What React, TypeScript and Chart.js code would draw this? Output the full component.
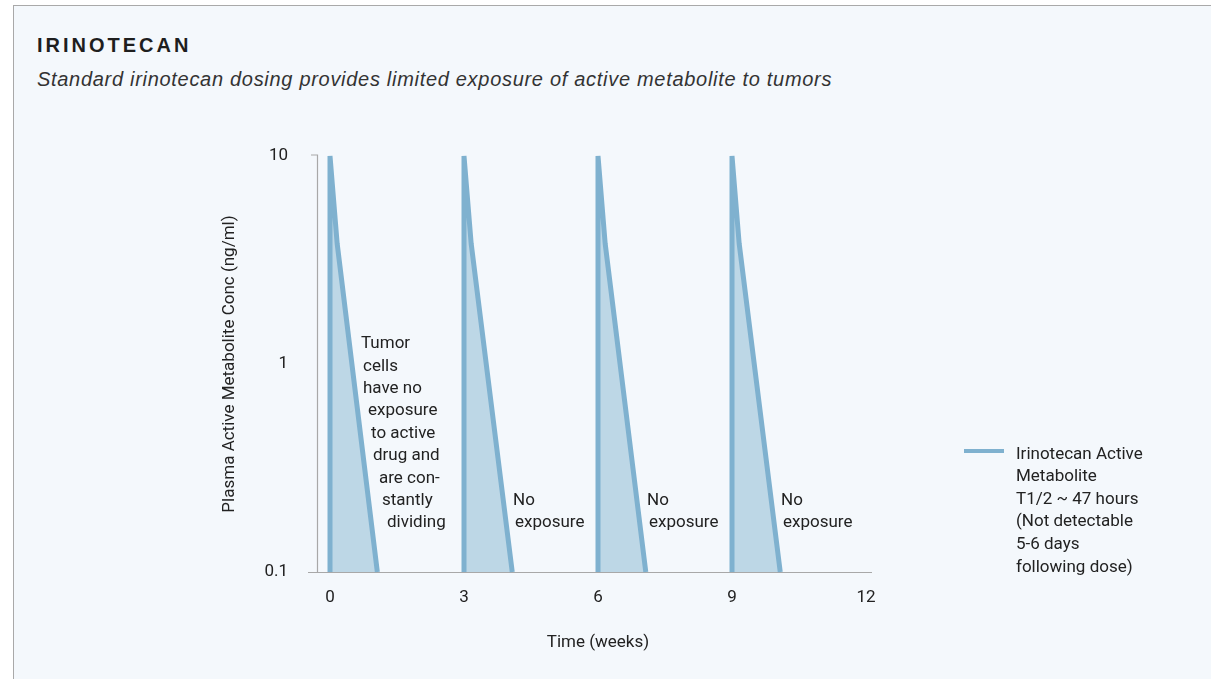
import React, { useEffect, useRef } from 'react';
import { Chart, registerables } from 'chart.js';

Chart.register(...registerables);

// ---- data ----
const dose1Weeks = [0, 0, 0.16, 1.06];
const dose1Conc = [0.1, 10, 3.8, 0.1];
const dose2Weeks = [3, 3, 3.16, 4.08];
const dose2Conc = [0.1, 10, 3.8, 0.1];
const dose3Weeks = [6, 6, 6.16, 7.07];
const dose3Conc = [0.1, 10, 3.8, 0.1];
const dose4Weeks = [9, 9, 9.16, 10.08];
const dose4Conc = [0.1, 10, 3.8, 0.1];

const xTickValues = [0, 3, 6, 9, 12];
const yTickValues = [0.1, 1, 10];
const yTickLabels = ['0.1', '1', '10'];

const seriesLabel = 'Irinotecan Active Metabolite';
const legendLines = ['Irinotecan Active', 'Metabolite', 'T1/2 ~ 47 hours', '(Not detectable', '5-6 days', 'following dose)'];
const tumorNote = ['Tumor', 'cells', 'have no', 'exposure', 'to active', 'drug and', 'are con-', 'stantly', 'dividing'];
const noExposureNote = ['No', 'exposure'];
const noExposureDoses = [3, 6, 9];

const titleText = 'IRINOTECAN';
const subtitleText = 'Standard irinotecan dosing provides limited exposure of active metabolite to tumors';
const xTitle = 'Time (weeks)';
const yTitle = 'Plasma Active Metabolite Conc (ng/ml)';

// ---- styles ----
const LINE = '#7fb1cf';
const FILL = '#bdd7e6';
const AXIS = '#a8a8a8';
const TEXT = '#222222';
const FONT = 'Roboto, "Liberation Sans", Arial, sans-serif';

const tumorOffsets = [31, 33, 33, 38, 41, 43, 49, 52, 57];

const toPoints = (xs: number[], ys: number[]) => xs.map((x, i) => ({ x, y: ys[i] }));

export default function App() {
  const canvasRef = useRef<HTMLCanvasElement | null>(null);

  useEffect(() => {
    if (!canvasRef.current) return;
    const mk = (xs: number[], ys: number[]) => ({
      label: seriesLabel,
      data: toPoints(xs, ys),
      borderColor: LINE,
      backgroundColor: FILL,
      borderWidth: 5,
      borderJoinStyle: 'bevel' as const,
      pointRadius: 0,
      tension: 0,
      fill: 'start' as const,
      clip: false as const,
    });

    const overlay = {
      id: 'overlay',
      beforeDatasetsDraw(chart: any) {
        const { ctx, chartArea, scales } = chart;
        const y10 = scales.y.getPixelForValue(10);
        ctx.save();
        ctx.strokeStyle = AXIS;
        ctx.lineWidth = 1.2;
        ctx.beginPath();
        ctx.moveTo(chartArea.left - 22, chartArea.bottom + 0.5);
        ctx.lineTo(chartArea.right + 6, chartArea.bottom + 0.5);
        ctx.moveTo(chartArea.left - 12.5, y10 - 1.5);
        ctx.lineTo(chartArea.left - 12.5, chartArea.bottom);
        ctx.moveTo(chartArea.left - 19, y10 - 1);
        ctx.lineTo(chartArea.left - 12.5, y10 - 1);
        ctx.stroke();
        ctx.restore();
      },
      afterDraw(chart: any) {
        const { ctx, scales } = chart;
        ctx.save();
        ctx.fillStyle = TEXT;
        ctx.font = `17px ${FONT}`;
        ctx.textBaseline = 'middle';
        ctx.textAlign = 'left';
        const x0 = scales.x.getPixelForValue(0);
        tumorNote.forEach((t, i) => {
          ctx.fillText(t, x0 + tumorOffsets[i], 344 + i * 22.4);
        });
        noExposureDoses.forEach((d) => {
          const xp = scales.x.getPixelForValue(d);
          ctx.fillText(noExposureNote[0], xp + 49, 500.5);
          ctx.fillText(noExposureNote[1], xp + 51, 523);
        });
        ctx.restore();
      },
    };

    const chart = new Chart(canvasRef.current, {
      type: 'line',
      data: {
        datasets: [mk(dose1Weeks, dose1Conc), mk(dose2Weeks, dose2Conc), mk(dose3Weeks, dose3Conc), mk(dose4Weeks, dose4Conc)],
      },
      options: {
        animation: false,
        responsive: false,
        maintainAspectRatio: false,
        layout: { padding: { left: 219.4, right: 345, top: 156, bottom: 26.4 } },
        plugins: { legend: { display: false }, tooltip: { enabled: false } },
        scales: {
          x: {
            type: 'linear',
            min: 0,
            max: 12,
            afterBuildTicks: (s: any) => { s.ticks = xTickValues.map((v) => ({ value: v })); },
            afterFit: (s: any) => { s.height = 652.6 - 572; },
            grid: { display: false, drawTicks: false },
            border: { display: false },
            ticks: { color: TEXT, font: { family: FONT, size: 17 }, padding: 16, maxRotation: 0, callback: (v: any) => String(v) },
            title: { display: true, text: xTitle, color: TEXT, font: { family: FONT, size: 17 }, padding: 0 },
          },
          y: {
            type: 'logarithmic',
            min: 0.1,
            max: 10,
            afterBuildTicks: (s: any) => { s.ticks = yTickValues.map((v) => ({ value: v })); },
            afterFit: (s: any) => { s.width = 330 - 219.4; },
            grid: { display: false, drawTicks: false },
            border: { display: false },
            ticks: {
              color: TEXT,
              font: { family: FONT, size: 17 },
              padding: 42,
              callback: (v: any) => yTickLabels[yTickValues.indexOf(Number(v))] ?? '',
            },
            title: { display: true, text: yTitle, color: TEXT, font: { family: FONT, size: 17 }, padding: 0 },
          },
        },
      },
      plugins: [overlay],
    });
    return () => chart.destroy();
  }, []);

  return (
    <div style={{ position: 'absolute', left: 0, top: 0, width: 1211, height: 679, overflow: 'hidden', background: '#ffffff' }}>
      <div
        style={{
          position: 'absolute', left: 13, top: 5, right: 0, bottom: 0,
          background: '#f4f8fc', borderLeft: '1px solid #a9a9a9', borderTop: '1px solid #a9a9a9',
        }}
      />
      <div
        style={{
          position: 'absolute', left: 37, top: 35, fontFamily: '"Liberation Sans", Arial, sans-serif',
          fontWeight: 'bold', fontSize: 20, lineHeight: '20px', letterSpacing: 3, color: '#1e1e1e', whiteSpace: 'nowrap',
        }}
      >
        {titleText}
      </div>
      <div
        style={{
          position: 'absolute', left: 37, top: 69, fontFamily: '"Liberation Sans", Arial, sans-serif',
          fontStyle: 'italic', fontSize: 20, lineHeight: '20px', letterSpacing: 0.7, color: '#333333', whiteSpace: 'nowrap',
        }}
      >
        {subtitleText}
      </div>
      <canvas ref={canvasRef} width={1211} height={679} style={{ position: 'absolute', left: 0, top: 0, width: 1211, height: 679 }} />
      <div style={{ position: 'absolute', left: 964, top: 449, width: 40, height: 4, background: LINE }} />
      <div
        style={{
          position: 'absolute', left: 1016, top: 441.7, fontFamily: FONT, fontSize: 17, lineHeight: '22.6px',
          color: TEXT, whiteSpace: 'nowrap',
        }}
      >
        {legendLines.map((l, i) => (
          <div key={i}>{l}</div>
        ))}
      </div>
    </div>
  );
}
